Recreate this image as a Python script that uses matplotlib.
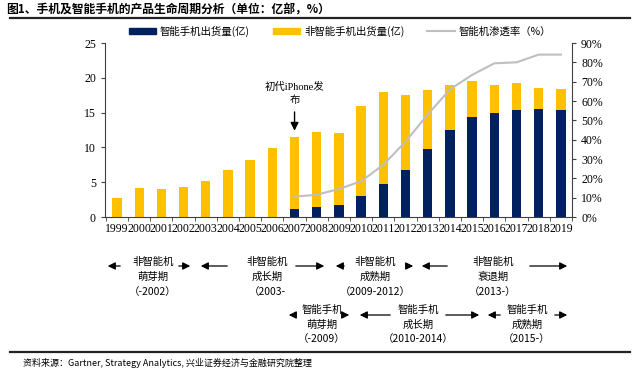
import matplotlib.pyplot as plt
from matplotlib.lines import Line2D
from matplotlib.patches import Patch, FancyArrowPatch

plt.rcParams['font.family'] = ['Liberation Serif', 'Noto Sans CJK SC']

# data (亿部, %)
years = [str(y) for y in range(1999, 2020)]
smart = [0, 0, 0, 0, 0, 0, 0, 0, 1.2, 1.4, 1.7, 3.0, 4.8, 6.8, 9.7, 12.5, 14.3, 15.0, 15.4, 15.5, 15.4]
non_smart = [2.8, 4.1, 4.0, 4.3, 5.2, 6.8, 8.2, 9.9, 10.3, 10.8, 10.4, 13.0, 13.1, 10.7, 8.5, 6.4, 5.2, 3.9, 3.9, 3.1, 3.0]
pen_years = [str(y) for y in range(2007, 2020)]
penetration = [10.5, 11.5, 14.5, 18.5, 27, 39, 53, 66, 73.5, 79.5, 80, 84, 84]

W, H = 640, 378
fig = plt.figure(figsize=(W / 100, H / 100), dpi=100)


def fx(px):
    return px / W


def fy(py):
    return 1 - py / H


ax = fig.add_axes([fx(105), fy(217), fx(572) - fx(105), fy(43) - fy(217)])
x = list(range(len(years)))
ax.bar(x, smart, width=0.42, color='#002060')
ax.bar(x, non_smart, width=0.42, bottom=smart, color='#FFC000')
ax.set_ylim(0, 25)
ax.set_yticks(range(0, 26, 5))
ax.set_xlim(-0.54, len(years) - 0.55)
ax.set_xticks(x)
ax.set_xticklabels(years)
ax.set_xticks([i - 0.5 for i in range(len(years) + 1)], minor=True)
ax.tick_params(axis='x', which='major', length=0, pad=4, labelsize=8.5)
ax.tick_params(axis='x', which='minor', length=3, color='#404040')
ax.tick_params(axis='y', length=3, labelsize=8.5, color='#404040')
for s in ['top', 'right']:
    ax.spines[s].set_visible(False)
for s in ['left', 'bottom']:
    ax.spines[s].set_color('#404040')

ax2 = ax.twinx()
px = [years.index(y) for y in pen_years]
ax2.plot(px, penetration, color='#BFBFBF', lw=1.5)
ax2.set_ylim(0, 90)
ax2.set_yticks(range(0, 91, 10))
ax2.set_yticklabels([f'{v}%' for v in range(0, 91, 10)])
ax2.tick_params(axis='y', length=3, labelsize=8.5, color='#404040')
for s in ['top', 'left', 'bottom']:
    ax2.spines[s].set_visible(False)
ax2.spines['right'].set_color('#404040')

# iPhone annotation
i07 = years.index('2007')
top07 = smart[i07] + non_smart[i07]
ax.annotate('', xy=(i07, top07 + 0.5), xytext=(i07, top07 + 4.0),
            arrowprops=dict(arrowstyle='-|>', color='black', lw=1, mutation_scale=12))
ax.text(i07, top07 + 4.6, '初代iPhone发\n布', ha='center', va='bottom',
        fontsize=7.5, linespacing=1.5)

# legend
handles = [Patch(color='#002060'), Patch(color='#FFC000'), Line2D([], [], color='#BFBFBF', lw=1.5)]
labels = ['智能手机出货量(亿)', '非智能手机出货量(亿)', '智能机渗透率（%）']
fig.legend(handles, labels, loc='center', bbox_to_anchor=(fx(340), fy(31)), ncol=3,
           frameon=False, handlelength=2.6, handleheight=0.5,
           columnspacing=2.2, handletextpad=0.4, prop={'family': ['Noto Sans CJK SC'], 'size': 7.5})

# title and rules
fig.text(fx(6), fy(10), '图1、手机及智能手机的产品生命周期分析（单位：亿部，%）',
         fontsize=8.5, fontweight='bold', va='center', family=['Noto Sans CJK SC'])
fig.add_artist(Line2D([fx(10), fx(630)], [fy(18), fy(18)], color='#222222', lw=1.6))
fig.add_artist(Line2D([fx(10), fx(630)], [fy(352), fy(352)], color='#222222', lw=1.6))
fig.text(fx(23), fy(363), '资料来源：Gartner, Strategy Analytics, 兴业证券经济与金融研究院整理',
         fontsize=6.5, va='center', family=['Noto Sans CJK SC'])

# lifecycle phases: (left tip, left line end, text centre, right line start, right tip, lines)
row1 = [
    (105, 123, 153, 176, 193, ['非智能机', '萌芽期', '（-2002）']),
    (198, 230, 267, 293, 327, ['非智能机', '成长期', '（2003-']),
    (333, 347, 375, 406, 416, ['非智能机', '成熟期', '（2009-2012）']),
    (419, 450, 493, 527, 570, ['非智能机', '衰退期', '（2013-）']),
]
row2 = [
    (286, 295, 322, 343, 352, ['智能手机', '萌芽期', '（-2009）']),
    (357, 393, 418, 443, 482, ['智能手机', '成长期', '（2010-2014）']),
    (485, 503, 527, 552, 570, ['智能手机', '成熟期', '（2015-）']),
]


def draw_row(groups, text_y, arrow_y):
    for lt, le, c, rs, rt, lines in groups:
        for a, b in [(le, lt), (rs, rt)]:
            fig.add_artist(FancyArrowPatch(
                (fx(a), fy(arrow_y)), (fx(b), fy(arrow_y)), transform=fig.transFigure,
                arrowstyle='-|>', mutation_scale=11, color='black', lw=0.9))
        for t, ty in zip(lines, text_y):
            fig.text(fx(c), fy(ty), t, ha='center', va='center', fontsize=7.5,
                     family=['Noto Sans CJK SC'])


draw_row(row1, [262, 277, 292], 266)
draw_row(row2, [310, 325, 339], 315)

fig.savefig('out.png', dpi=100)
